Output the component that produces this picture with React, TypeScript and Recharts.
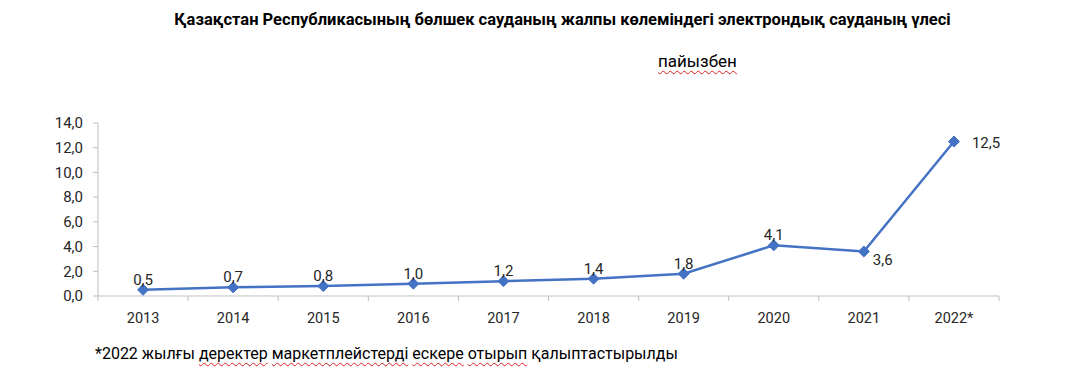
import { LineChart, Line, XAxis, YAxis, LabelList } from "recharts";

const years = ["2013", "2014", "2015", "2016", "2017", "2018", "2019", "2020", "2021", "2022*"];
const shares = [0.5, 0.7, 0.8, 1.0, 1.2, 1.4, 1.8, 4.1, 3.6, 12.5];
const yTicks = [0, 2, 4, 6, 8, 10, 12, 14];

const data = years.map((year, i) => ({ year, share: shares[i] }));

const FONT = "Roboto, 'Noto Sans', sans-serif";
const BLUE = "#4472C4";
const AXIS = "#bfbfbf";
const TEXT = "#262626";
const wavy = { textDecoration: "underline wavy #e02020", textDecorationThickness: "1px", textUnderlineOffset: "3px" };

const W = 1085;
const H = 381;
const M = { top: 123, right: 86, bottom: 55, left: 0 };
const Y_W = 98;
const half = (W - M.right - Y_W) / years.length / 2;

const fmt = (v: number) => v.toFixed(1).replace(".", ",");

const Diamond = (props: any) => {
  const { cx, cy } = props;
  if (cx == null || cy == null) return null;
  const r = 5.5;
  return (
    <polygon
      points={`${cx},${cy - r} ${cx + r},${cy} ${cx},${cy + r} ${cx - r},${cy}`}
      fill={BLUE}
      stroke={BLUE}
    />
  );
};

// category label in the middle, tick marks on the category boundaries
const YearTick = (props: any) => {
  const { x, y, payload, index } = props;
  const top = y - 12;
  return (
    <g>
      <line x1={x - half} x2={x - half} y1={top} y2={top + 5} stroke={AXIS} />
      {index === years.length - 1 && <line x1={x + half} x2={x + half} y1={top} y2={top + 5} stroke={AXIS} />}
      <text x={x} y={y + 5} dy="0.71em" textAnchor="middle" fontSize={14.5} fill={TEXT} fontFamily={FONT}>
        {payload.value}
      </text>
    </g>
  );
};

const PointLabel = (props: any) => {
  const { x, y, value, index } = props;
  let dx = 0;
  let dy = -10;
  let anchor: "middle" | "start" = "middle";
  if (index === 8) {
    dx = 9;
    dy = 8;
    anchor = "start";
  } else if (index === 9) {
    dx = 18;
    dy = 1;
    anchor = "start";
  }
  return (
    <text x={x + dx} y={y + dy} textAnchor={anchor} dominantBaseline="central" fontSize={15} fill={TEXT} fontFamily={FONT}>
      {fmt(value)}
    </text>
  );
};

export default function App() {
  return (
    <div style={{ position: "absolute", left: 0, top: 0, width: W, height: H, background: "#fff", fontFamily: FONT }}>
      <div style={{ position: "absolute", left: 0, width: 1125, top: 10, textAlign: "center", fontWeight: 700, fontSize: 16.5, color: "#000" }}>
        Қазақстан Республикасының бөлшек сауданың жалпы көлеміндегі электрондық сауданың үлесі
      </div>
      <div style={{ position: "absolute", left: 658, top: 51, fontSize: 17, color: "#000" }}>
        <span style={wavy}>пайызбен</span>
      </div>
      <LineChart width={W} height={H} data={data} margin={M}>
        <XAxis
          dataKey="year"
          scale="band"
          axisLine={{ stroke: AXIS }}
          tickLine={false}
          tickSize={5}
          tickMargin={7}
          tick={<YearTick />}
          interval={0}
          height={30}
        />
        <YAxis
          width={Y_W}
          domain={[0, 14]}
          ticks={yTicks}
          tickFormatter={fmt}
          axisLine={{ stroke: AXIS }}
          tickLine={{ stroke: AXIS }}
          tickSize={5}
          tickMargin={10}
          tick={{ fontSize: 15, fill: TEXT, fontFamily: FONT }}
        />
        <Line
          type="linear"
          dataKey="share"
          stroke={BLUE}
          strokeWidth={2.5}
          dot={<Diamond />}
          activeDot={false}
          isAnimationActive={false}
        >
          <LabelList dataKey="share" content={<PointLabel />} />
        </Line>
      </LineChart>
      <div style={{ position: "absolute", left: 95, top: 344, fontSize: 16, color: "#000" }}>
        *2022 жылғы <span style={wavy}>деректер</span> <span style={wavy}>маркетплейстерді</span>{" "}
        <span style={wavy}>ескере</span> <span style={wavy}>отырып</span> қалыптастырылды
      </div>
    </div>
  );
}
